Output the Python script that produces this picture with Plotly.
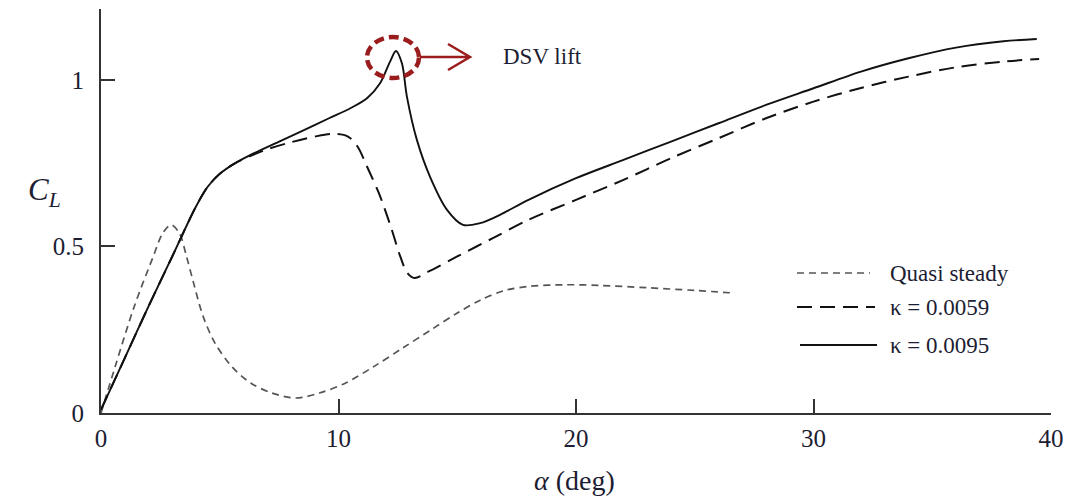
import plotly.graph_objects as go

# Angle of attack (deg) and lift coefficient for each case
alpha_qs = [0.0, 0.6, 1.4, 2.2, 2.6, 2.95, 3.3, 3.6, 3.9, 4.3, 4.8, 5.5, 6.3, 7.2, 8.2,
            9.2, 10.3, 11.5, 12.7, 13.9, 15.0, 16.0, 17.0, 18.0, 19.5, 21.0, 23.0, 25.0, 26.7]
cl_qs = [0.0, 0.14, 0.32, 0.47, 0.54, 0.565, 0.54, 0.47, 0.39, 0.29, 0.21, 0.14, 0.09, 0.06, 0.045,
         0.06, 0.09, 0.14, 0.195, 0.25, 0.30, 0.34, 0.368, 0.38, 0.385, 0.383, 0.376, 0.368, 0.36]

alpha_k59 = [0.0, 1.0, 2.0, 3.0, 4.0, 4.5, 5.0, 5.6, 6.3, 7.0, 8.0, 9.0, 9.8, 10.4, 10.8, 11.2,
             11.7, 12.2, 12.6, 12.9, 13.2, 13.8, 15.0, 16.5, 18.0, 20.0, 22.0, 24.0, 26.0, 28.0,
             30.0, 32.0, 34.0, 36.0, 38.0, 39.5]
cl_k59 = [0.01, 0.165, 0.32, 0.47, 0.62, 0.68, 0.718, 0.748, 0.772, 0.792, 0.813, 0.83, 0.838, 0.83, 0.80, 0.74,
          0.66, 0.56, 0.47, 0.42, 0.405, 0.425, 0.47, 0.525, 0.58, 0.64, 0.70, 0.765, 0.825, 0.885,
          0.935, 0.976, 1.01, 1.038, 1.055, 1.063]

alpha_k95 = [0.0, 1.0, 2.0, 3.0, 4.0, 4.5, 5.0, 5.6, 6.3, 7.5, 8.5, 9.6, 10.5, 11.2, 11.75, 12.17,
             12.42, 12.67, 12.88, 13.3, 13.85, 14.57, 15.24, 15.96, 16.8, 18.0, 20.0, 22.0, 24.0,
             26.0, 28.0, 30.0, 32.0, 34.0, 36.0, 38.0, 39.4]
cl_k95 = [0.01, 0.165, 0.32, 0.47, 0.62, 0.68, 0.718, 0.748, 0.775, 0.815, 0.848, 0.885, 0.915, 0.945, 0.99, 1.055,
          1.087, 1.05, 0.95, 0.82, 0.71, 0.61, 0.565, 0.57, 0.595, 0.64, 0.705, 0.76, 0.815,
          0.87, 0.925, 0.975, 1.025, 1.065, 1.097, 1.116, 1.123]

series_names = ["Quasi steady", "\u03ba = 0.0059", "\u03ba = 0.0095"]
x_ticks = [0, 10, 20, 30, 40]
y_ticks = [0, 0.5, 1]

SERIF = "Liberation Serif, Times New Roman, serif"
INK = "#1d1d33"
AXIS = "#333333"
RED = "#9a1c1c"

styles = [
    dict(color="#555555", width=1.7, dash="7px,5px"),
    dict(color="#111111", width=2.0, dash="15px,8px"),
    dict(color="#111111", width=1.9, dash="solid"),
]

fig = go.Figure()
for xs, ys, name, st in zip([alpha_qs, alpha_k59, alpha_k95], [cl_qs, cl_k59, cl_k95],
                            series_names, styles):
    fig.add_trace(go.Scatter(x=xs, y=ys, mode="lines", name=name, line=st,
                             line_shape="spline", line_smoothing=0.9, showlegend=False))

# plot area in pixels
L, R, T, B = 101, 25, 9, 87
W, H = 1076, 500
PW, PH = W - L - R, H - T - B


def px(xp):
    return (xp - L) / PW


def py(yp):
    return (H - B - yp) / PH


shapes = []
annotations = []

# legend drawn as line samples next to labels
legend_rows = [(273, 797, 870), (307, 797, 875), (345, 800, 877)]
for (yrow, x0, x1), name, st in zip(legend_rows, series_names, styles):
    shapes.append(dict(type="line", xref="paper", yref="paper",
                       x0=px(x0), x1=px(x1), y0=py(yrow), y1=py(yrow),
                       line=dict(color=st["color"], width=st["width"], dash=st["dash"])))
    annotations.append(dict(xref="paper", yref="paper", x=px(888), y=py(yrow),
                            text=name, showarrow=False, xanchor="left", yanchor="middle",
                            font=dict(family=SERIF, size=23, color=INK)))

# DSV callout: dashed ellipse around the peak and an open arrow
shapes.append(dict(type="circle", xref="paper", yref="paper",
                   x0=px(367), x1=px(419), y0=py(78), y1=py(37),
                   line=dict(color=RED, width=4.5, dash="10px,5px")))
shapes.append(dict(type="path", xref="paper", yref="paper",
                   path=f"M{px(420)},{py(57)} L{px(470)},{py(57)} "
                        f"M{px(448)},{py(44)} L{px(470)},{py(57)} L{px(448)},{py(70)}",
                   line=dict(color=RED, width=2.5)))
annotations.append(dict(xref="paper", yref="paper", x=px(501), y=py(56), text="DSV lift",
                        showarrow=False, xanchor="left", yanchor="middle",
                        font=dict(family=SERIF, size=23, color=INK)))

# axis titles
annotations.append(dict(xref="paper", yref="paper", x=px(44), y=py(192),
                        text="<i>C<sub>L</sub></i>", showarrow=False,
                        xanchor="center", yanchor="middle",
                        font=dict(family=SERIF, size=31, color=INK)))
annotations.append(dict(xref="paper", yref="paper", x=px(574), y=py(481),
                        text="<i>\u03b1</i> (deg)", showarrow=False,
                        xanchor="center", yanchor="middle",
                        font=dict(family=SERIF, size=28, color=INK)))

fig.update_layout(
    width=W, height=H,
    margin=dict(l=L, r=R, t=T, b=B),
    paper_bgcolor="white", plot_bgcolor="white",
    shapes=shapes, annotations=annotations,
    font=dict(family=SERIF, size=25, color=INK),
)
fig.update_xaxes(range=[0, 40], tickvals=x_ticks, ticks="inside", ticklen=14, tickwidth=2,
                 tickcolor=AXIS, showline=True, linecolor=AXIS, linewidth=2,
                 showgrid=False, zeroline=False, ticklabelstandoff=2,
                 tickfont=dict(family=SERIF, size=25, color=INK))
fig.update_yaxes(range=[0, 1.213], tickvals=y_ticks, ticks="inside", ticklen=14, tickwidth=2,
                 tickcolor=AXIS, showline=True, linecolor=AXIS, linewidth=2,
                 showgrid=False, zeroline=False, ticklabelstandoff=10,
                 tickfont=dict(family=SERIF, size=25, color=INK))

fig.write_html("out.html")
